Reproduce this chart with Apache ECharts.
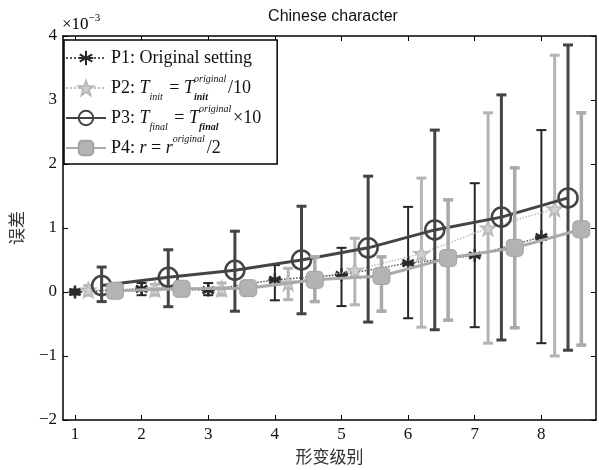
<!DOCTYPE html>
<html>
<head>
<meta charset="utf-8">
<script src="https://cdn.jsdelivr.net/npm/echarts@6/dist/echarts.min.js"></script>
<style>
	html, body { margin: 0; padding: 0; background: #fff; }
	#main { width: 599px; height: 470px; }
</style>
</head>
<body>
<div id="main"></div>
<script>
	// 形变级别
	var levels = [1, 2, 3, 4, 5, 6, 7, 8];
	// 每组在 x 方向上的偏移
	var offsets = [0, 0.2, 0.4, 0.6];
	var yTicks = [-2, -1, 0, 1, 2, 3, 4];

	// 误差均值 (×10^-3) 与误差棒上下限
	var p1Mean = [0.00, 0.05, 0.03, 0.19, 0.27, 0.45, 0.57, 0.86];
	var p1Low  = [-0.04, -0.05, -0.05, -0.13, -0.22, -0.41, -0.55, -0.80];
	var p1High = [0.04, 0.14, 0.14, 0.42, 0.69, 1.33, 1.70, 2.53];

	var p2Mean = [0.03, 0.04, 0.05, 0.14, 0.34, 0.60, 1.00, 1.30];
	var p2Low  = [-0.05, -0.05, -0.05, -0.12, -0.20, -0.55, -0.80, -1.00];
	var p2High = [0.10, 0.12, 0.14, 0.37, 0.84, 1.78, 2.80, 3.70];

	var p3Mean = [0.10, 0.23, 0.34, 0.50, 0.69, 0.97, 1.17, 1.47];
	var p3Low  = [-0.15, -0.23, -0.30, -0.34, -0.47, -0.59, -0.75, -0.91];
	var p3High = [0.39, 0.66, 0.95, 1.34, 1.81, 2.53, 3.08, 3.86];

	var p4Mean = [0.02, 0.05, 0.06, 0.19, 0.25, 0.53, 0.69, 0.98];
	var p4Low  = [-0.05, -0.05, -0.05, -0.15, -0.30, -0.44, -0.56, -0.83];
	var p4High = [0.10, 0.10, 0.12, 0.55, 0.55, 1.44, 1.94, 2.80];

	var serif = 'Liberation Serif, Times New Roman, serif';
	var asterisk = 'path://M0,-10L0,10M-8.7,-5L8.7,5M-8.7,5L8.7,-5M-10,0L10,0';
	var star = 'path://M0,-10L2.4,-3.2L9.5,-3.1L3.8,1.2L5.9,8.1L0,4L-5.9,8.1L-3.8,1.2L-9.5,-3.1L-2.4,-3.2Z';

	var groups = [
		{ name: 'P1', mean: p1Mean, low: p1Low, high: p1High, color: '#2a2a2a', barColor: '#262626', barWidth: 2,
			line: { color: '#555', width: 1.5, type: 'dotted' },
			symbol: asterisk, size: 13, item: { color: '#2a2a2a', borderColor: '#2a2a2a', borderWidth: 2.5 } },
		{ name: 'P2', mean: p2Mean, low: p2Low, high: p2High, color: '#c4c4c4', barColor: '#b4b4b4', barWidth: 3,
			line: { color: '#bdbdbd', width: 1.5, type: 'dotted' },
			symbol: star, size: 15, item: { color: '#cfcfcf', borderColor: '#b8b8b8', borderWidth: 1.5 } },
		{ name: 'P3', mean: p3Mean, low: p3Low, high: p3High, color: '#444', barColor: '#444', barWidth: 3,
			line: { color: '#444', width: 3, type: 'solid' },
			symbol: 'circle', size: 19, item: { color: 'rgba(255,255,255,0)', borderColor: '#444', borderWidth: 2.5 } },
		{ name: 'P4', mean: p4Mean, low: p4Low, high: p4High, color: '#ababab', barColor: '#aaaaaa', barWidth: 3.5,
			line: { color: '#aaaaaa', width: 3, type: 'solid' },
			symbol: 'roundRect', size: 17, item: { color: '#b3b3b3', borderColor: '#a3a3a3', borderWidth: 1 } }
	];

	function errorBar(color, width) {
		return function (params, api) {
			var x = api.value(0);
			var top = api.coord([x, api.value(2)]);
			var bot = api.coord([x, api.value(1)]);
			var w = 5;
			var style = { stroke: color, lineWidth: width };
			return {
				type: 'group',
				children: [
					{ type: 'line', shape: { x1: top[0], y1: top[1], x2: bot[0], y2: bot[1] }, style: style },
					{ type: 'line', shape: { x1: top[0] - w, y1: top[1], x2: top[0] + w, y2: top[1] }, style: style },
					{ type: 'line', shape: { x1: bot[0] - w, y1: bot[1], x2: bot[0] + w, y2: bot[1] }, style: style }
				]
			};
		};
	}

	var series = [];
	groups.forEach(function (g, k) {
		var bars = [], pts = [];
		for (var i = 0; i < levels.length; i++) {
			var x = levels[i] + offsets[k];
			bars.push([x, g.low[i], g.high[i]]);
			pts.push([x, g.mean[i]]);
		}
		series.push({
			type: 'custom', name: g.name + '_err', silent: true, z: 2 + k * 2,
			renderItem: errorBar(g.barColor, g.barWidth),
			encode: { x: 0, y: [1, 2] },
			data: bars
		});
		series.push({
			type: 'line', name: g.name, z: 3 + k * 2,
			data: pts,
			symbol: g.symbol, symbolSize: g.size,
			lineStyle: g.line,
			itemStyle: g.item,
			color: g.color
		});
	});

	var legendText = {
		P1: '{n|P1: Original setting}{sub| }',
		P2: '{n|P2: }{i|T}{sub|init}{n| = }{i|T}{sup|original}{sb|init}{n|/10}',
		P3: '{n|P3: }{i|T}{sub|final}{n| = }{i|T}{sup|original}{sb|final}{n|×10}',
		P4: '{n|P4: }{i|r}{n| = }{i|r}{sup|original}{so|}{n|/2}{sub| }'
	};

	var chart = echarts.init(document.getElementById('main'));
	chart.setOption({
		backgroundColor: '#fff',
		animation: false,
		title: {
			text: 'Chinese character', left: 328, top: 4, textAlign: 'center',
			textStyle: { fontFamily: 'Liberation Sans, Arial, sans-serif', fontSize: 16, fontWeight: 'normal', color: '#111' }
		},
		grid: { left: 61, right: 3, top: 36, bottom: 50 },
		legend: {
			data: ['P1', 'P2', 'P3', 'P4'],
			orient: 'vertical', left: 64, top: 40,
			backgroundColor: '#fff', borderColor: '#000', borderWidth: 1.5, borderRadius: 0,
			padding: [9, 16, 2, 1],
			itemWidth: 40, itemHeight: 18, itemGap: 2,
			formatter: function (name) { return legendText[name]; },
			textStyle: {
				color: '#111',
				rich: {
					n: { fontFamily: serif, fontSize: 18, lineHeight: 28, color: '#111' },
					i: { fontFamily: serif, fontSize: 18, fontStyle: 'italic', lineHeight: 28, color: '#111' },
					sub: { fontFamily: serif, fontSize: 10, fontStyle: 'italic', verticalAlign: 'bottom', lineHeight: 14, color: '#111', padding: [0, 2, 0, 0] },
					sup: { fontFamily: serif, fontSize: 10, fontStyle: 'italic', verticalAlign: 'top', lineHeight: 14, width: 0, align: 'left', color: '#111' },
					sb: { fontFamily: serif, fontSize: 10, fontStyle: 'italic', fontWeight: 'bold', verticalAlign: 'bottom', lineHeight: 12, width: 34, align: 'left', color: '#111' },
					so: { fontSize: 10, width: 34 }
				}
			}
		},
		graphic: [
			{
				type: 'text', left: 62, top: 13,
				style: {
					text: '{a|×10}{b|−3}',
					rich: {
						a: { fontFamily: serif, fontSize: 17, color: '#111', lineHeight: 20, verticalAlign: 'bottom' },
						b: { fontFamily: serif, fontSize: 11, color: '#111', lineHeight: 20, verticalAlign: 'top' }
					}
				}
			}
		],
		xAxis: [
			{
				type: 'value', min: 0.82, max: 8.82, position: 'bottom',
				name: '形变级别', nameLocation: 'middle', nameGap: 26,
				nameTextStyle: { fontFamily: 'Noto Sans CJK SC', fontSize: 17, color: '#333' },
				axisLine: { onZero: false, lineStyle: { color: '#000', width: 1.5 } },
				axisTick: { inside: true, length: 5, customValues: levels, lineStyle: { color: '#000' } },
				axisLabel: { customValues: levels, fontFamily: serif, fontSize: 17, color: '#111', margin: 6 },
				splitLine: { show: false }
			},
			{
				type: 'value', min: 0.82, max: 8.82, position: 'top',
				axisLine: { onZero: false, lineStyle: { color: '#000', width: 1.5 } },
				axisTick: { inside: true, length: 5, customValues: levels, lineStyle: { color: '#000' } },
				axisLabel: { show: false },
				splitLine: { show: false }
			}
		],
		yAxis: [
			{
				type: 'value', min: -2, max: 4, interval: 1, position: 'left',
				name: '误差', nameLocation: 'middle', nameGap: 38, nameRotate: 90,
				nameTextStyle: { fontFamily: 'Noto Sans CJK SC', fontSize: 17, color: '#333' },
				axisLine: { show: true, onZero: false, lineStyle: { color: '#000', width: 1.5 } },
				axisTick: { show: true, inside: true, length: 5, lineStyle: { color: '#000' } },
				axisLabel: {
					fontFamily: serif, fontSize: 17, color: '#111', margin: 6,
					formatter: function (v) { return v < 0 ? '−' + Math.abs(v) : String(v); }
				},
				splitLine: { show: false }
			},
			{
				type: 'value', min: -2, max: 4, interval: 1, position: 'right',
				axisLine: { show: true, onZero: false, lineStyle: { color: '#000', width: 1.5 } },
				axisTick: { show: true, inside: true, length: 5, lineStyle: { color: '#000' } },
				axisLabel: { show: false },
				splitLine: { show: false }
			}
		],
		series: series
	});
</script>
</body>
</html>
